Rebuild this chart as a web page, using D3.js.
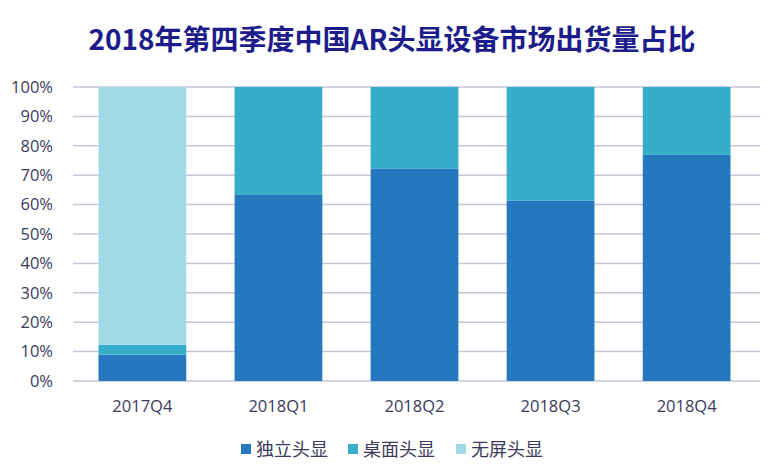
<!DOCTYPE html>
<html><head><meta charset="utf-8">
<script src="https://cdn.jsdelivr.net/npm/d3@7/dist/d3.min.js"></script>
<style>body{margin:0;background:#fff}</style>
</head><body>
<svg id="c" width="771" height="474"></svg>
<script>
const categories = ["2017Q4","2018Q1","2018Q2","2018Q3","2018Q4"];
const seriesNames = ["独立头显","桌面头显","无屏头显"];
const standalone = [9, 63.5, 72.3, 61.4, 76.9];
const desktop = [3.3, 36.5, 27.7, 38.6, 23.1];
const noscreen = [87.7, 0, 0, 0, 0];
const yTicks = [0,10,20,30,40,50,60,70,80,90,100];
const colors = ["#2678BE","#36AEC9","#A2D9E6"];

const svg = d3.select("#c");
const font = "'Open Sans','Noto Sans CJK SC',sans-serif";
const x = d3.scaleBand().domain(categories).range([74,755]).paddingInner(0.355).paddingOuter(0.18);
const y = d3.scaleLinear().domain([0,100]).range([381,87]);

svg.append("text").attr("x",392).attr("y",50).attr("text-anchor","middle")
  .attr("font-family","'Noto Sans CJK SC',sans-serif").attr("font-weight","bold")
  .attr("font-size",28).attr("fill","#1c1c8a").text("2018年第四季度中国AR头显设备市场出货量占比");

// grid
svg.append("g").selectAll("line").data(yTicks).join("line")
  .attr("x1",73).attr("x2",760).attr("y1",d=>y(d)).attr("y2",d=>y(d))
  .attr("stroke","#c9c5d6").attr("stroke-width",1.5);

const yAxis = svg.append("g").attr("transform","translate(56,0)")
  .call(d3.axisLeft(y).tickValues(yTicks).tickFormat(d=>d+"%").tickSize(0));
yAxis.select(".domain").remove();
yAxis.selectAll("text").attr("font-family",font).attr("font-size",16.5).attr("fill","#3b3a5c");

const data = categories.map((c,i)=>({cat:c, v:[standalone[i],desktop[i],noscreen[i]]}));
const stack = d3.stack().keys([0,1,2]).value((d,k)=>d.v[k]);
const layers = stack(data);
svg.append("g").selectAll("g").data(layers).join("g").attr("fill",(d,i)=>colors[i])
  .selectAll("rect").data(d=>d).join("rect")
  .attr("x",d=>x(d.data.cat)).attr("width",x.bandwidth())
  .attr("y",d=>y(d[1])).attr("height",d=>y(d[0])-y(d[1]));

const xAxis = svg.append("g").attr("transform","translate(0,381)")
  .call(d3.axisBottom(x).tickSize(0).tickPadding(19));
xAxis.select(".domain").remove();
xAxis.selectAll("text").attr("font-family",font).attr("font-size",16.5).attr("fill","#3b3a5c");

const legX = [241,348,456];
const lg = svg.append("g").selectAll("g").data(seriesNames).join("g")
  .attr("transform",(d,i)=>`translate(${legX[i]},449)`);
lg.append("rect").attr("x",0).attr("y",-5).attr("width",10).attr("height",10).attr("fill",(d,i)=>colors[i]);
lg.append("text").attr("x",15).attr("y",6.5).attr("font-family","'Noto Sans CJK SC',sans-serif")
  .attr("font-size",18).attr("fill","#3b3a5c").text(d=>d);
</script>
</body></html>
